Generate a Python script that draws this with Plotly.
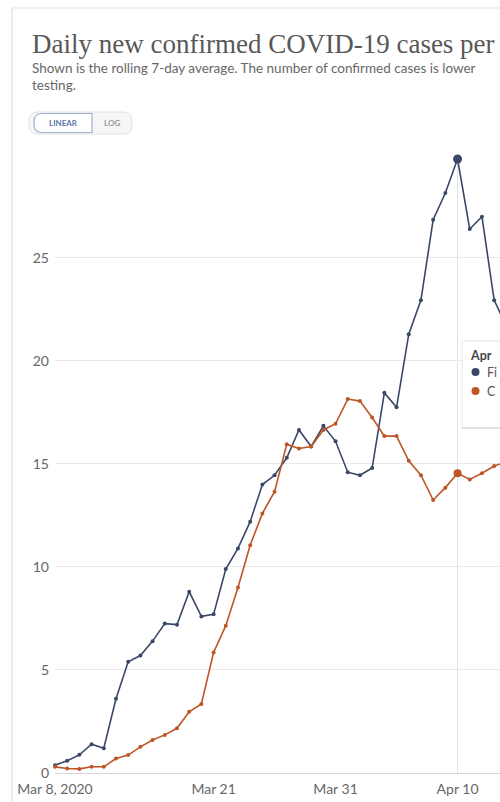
import pandas as pd
import plotly.graph_objects as go

# ---- data ----
start_date = "2020-03-08"
n_days = 38
dates = pd.date_range(start_date, periods=n_days, freq="D")

finland = [0.38, 0.60, 0.88, 1.40, 1.20, 3.60, 5.40, 5.70, 6.40, 7.25,
           7.20, 8.80, 7.60, 7.70, 9.90, 10.90, 12.20, 14.00, 14.45, 15.30,
           16.65, 15.85, 16.85, 16.10, 14.60, 14.45, 14.80, 18.45, 17.75, 21.30,
           22.95, 26.85, 28.15, 29.80, 26.40, 27.00, 22.95, 21.70]
croatia = [0.30, 0.22, 0.20, 0.30, 0.30, 0.70, 0.87, 1.27, 1.60, 1.85,
           2.17, 2.97, 3.35, 5.85, 7.15, 9.00, 11.05, 12.60, 13.65, 15.95,
           15.75, 15.85, 16.65, 16.95, 18.15, 18.05, 17.25, 16.35, 16.35, 15.15,
           14.45, 13.25, 13.85, 14.55, 14.25, 14.55, 14.90, 15.10]

series_names = ["Finland", "Croatia"]
hover_date = "2020-04-10"

x_tick_dates = ["2020-03-08", "2020-03-21", "2020-03-31", "2020-04-10"]
x_tick_text = ["Mar 8, 2020", "Mar 21", "Mar 31", "Apr 10"]
y_ticks = [0, 5, 10, 15, 20, 25]

title_text = "Daily new confirmed COVID-19 cases per"
subtitle_1 = "Shown is the rolling 7-day average. The number of confirmed cases is lower"
subtitle_2 = "testing."

# ---- styling ----
BLUE = "#3a4868"
ORANGE = "#bd5526"
GRID = "#e9e9e9"
TXT = "#676767"

W_FIG, H_FIG = 500, 802
L, R, T, B = 55, 500, 159, 773          # plot area in pixels
PW, PH = R - L, B - T


def px(x):
    return (x - L) / PW


def py(y):
    return (B - y) / PH


fig = go.Figure()

for vals, name, col in [(finland, series_names[0], BLUE), (croatia, series_names[1], ORANGE)]:
    fig.add_trace(go.Scatter(
        x=dates, y=vals, name=name, mode="lines+markers",
        line=dict(color=col, width=1.6),
        marker=dict(color=col, size=4),
        cliponaxis=False, showlegend=False, hoverinfo="skip"))

hi = list(dates).index(pd.Timestamp(hover_date))
for vals, col, sz in [(finland, BLUE, 9), (croatia, ORANGE, 8)]:
    fig.add_trace(go.Scatter(
        x=[dates[hi]], y=[vals[hi]], mode="markers",
        marker=dict(color=col, size=sz), cliponaxis=False,
        showlegend=False, hoverinfo="skip"))

x_end = pd.Timestamp(start_date) + pd.Timedelta(days=36.48)

fig.update_xaxes(
    type="date", range=[pd.Timestamp(start_date), x_end],
    tickvals=x_tick_dates, ticktext=x_tick_text,
    showgrid=False, zeroline=False, showline=False, ticks="",
    ticklabelstandoff=6,
    tickfont=dict(family="Lato", size=14, color=TXT))
fig.update_yaxes(
    range=[0, 29.8], tickvals=y_ticks, showgrid=True, gridcolor=GRID, gridwidth=1,
    zeroline=True, zerolinecolor="#d6d6d6", zerolinewidth=1, showline=False,
    ticks="", ticklabelstandoff=5,
    tickfont=dict(family="Lato", size=14, color=TXT))

shapes = []
# card border
shapes.append(dict(type="line", xref="paper", yref="paper",
                   x0=px(12), x1=px(12), y0=py(8), y1=py(802),
                   line=dict(color="#e4e4e4", width=1.5)))
shapes.append(dict(type="line", xref="paper", yref="paper",
                   x0=px(12), x1=px(500), y0=py(8), y1=py(8),
                   line=dict(color="#ededed", width=1.5)))
# hover vertical line
shapes.append(dict(type="line", xref="x", yref="paper",
                   x0=hover_date, x1=hover_date, y0=0, y1=1.0,
                   line=dict(color="#e2e2e2", width=1), layer="below"))


def rrect(x0, y0, x1, y1, r, right=True):
    a, b, c, d = px(x0), px(x1), py(y0), py(y1)
    rx, ry = r / PW, r / PH
    p = [f"M{a + rx},{c}"]
    if right:
        p.append(f"L{b - rx},{c} Q{b},{c} {b},{c - ry} L{b},{d + ry} Q{b},{d} {b - rx},{d}")
    else:
        p.append(f"L{b},{c} L{b},{d}")
    p.append(f"L{a + rx},{d} Q{a},{d} {a},{d + ry} L{a},{c - ry} Q{a},{c} {a + rx},{c} Z")
    return " ".join(p)


# LINEAR / LOG toggle
shapes.append(dict(type="path", xref="paper", yref="paper",
                   path=rrect(29, 112, 132, 134, 9),
                   fillcolor="#f6f6f6", line=dict(color="#e2e2e2", width=1)))
shapes.append(dict(type="path", xref="paper", yref="paper",
                   path=rrect(34, 113.5, 92, 132.5, 8, right=False),
                   fillcolor="#ffffff", line=dict(color="#9fb2d2", width=1.2)))

# tooltip box
shapes.append(dict(type="rect", xref="paper", yref="paper",
                   x0=px(462), x1=px(512), y0=py(428), y1=py(341),
                   fillcolor="#ffffff", line=dict(color="#e6e6e6", width=1)))
shapes.append(dict(type="line", xref="paper", yref="paper",
                   x0=px(462), x1=px(512), y0=py(428), y1=py(428),
                   line=dict(color="#dcdcdc", width=1.5)))
for yc, col in [(372, BLUE), (391, ORANGE)]:
    shapes.append(dict(type="circle", xref="paper", yref="paper",
                       x0=px(471.5), x1=px(479.5), y0=py(yc + 4), y1=py(yc - 4),
                       fillcolor=col, line=dict(width=0)))

annotations = [
    dict(text=title_text, x=px(30), y=py(44), xref="paper", yref="paper",
         xanchor="left", yanchor="middle", showarrow=False,
         font=dict(family="Liberation Serif", size=27, color="#585858")),
    dict(text=subtitle_1, x=px(30), y=py(68), xref="paper", yref="paper",
         xanchor="left", yanchor="middle", showarrow=False,
         font=dict(family="Lato", size=13.5, color=TXT)),
    dict(text=subtitle_2, x=px(30), y=py(85), xref="paper", yref="paper",
         xanchor="left", yanchor="middle", showarrow=False,
         font=dict(family="Lato", size=13.5, color=TXT)),
    dict(text="<b>LINEAR</b>", x=px(63), y=py(123), xref="paper", yref="paper",
         xanchor="center", yanchor="middle", showarrow=False,
         font=dict(family="Lato", size=8, color="#5b77a8")),
    dict(text="<b>LOG</b>", x=px(112), y=py(123), xref="paper", yref="paper",
         xanchor="center", yanchor="middle", showarrow=False,
         font=dict(family="Lato", size=8, color="#9a9a9a")),
    dict(text="<b>Apr</b>", x=px(468), y=py(355), xref="paper", yref="paper",
         xanchor="left", yanchor="middle", showarrow=False,
         font=dict(family="Lato", size=12.5, color="#444")),
    dict(text="Fi", x=px(485), y=py(372), xref="paper", yref="paper",
         xanchor="left", yanchor="middle", showarrow=False,
         font=dict(family="Lato", size=12.5, color="#555")),
    dict(text="C", x=px(485), y=py(391), xref="paper", yref="paper",
         xanchor="left", yanchor="middle", showarrow=False,
         font=dict(family="Lato", size=12.5, color="#555")),
]

fig.update_layout(
    width=W_FIG, height=H_FIG,
    margin=dict(l=L, r=W_FIG - R, t=T, b=H_FIG - B, pad=0),
    paper_bgcolor="#ffffff", plot_bgcolor="#ffffff",
    shapes=shapes, annotations=annotations,
    showlegend=False, hovermode=False,
    font=dict(family="Lato"))

fig.write_html("out.html",
               post_script="document.body.style.margin='0';document.body.style.overflow='hidden';",
               config={"displayModeBar": False})
